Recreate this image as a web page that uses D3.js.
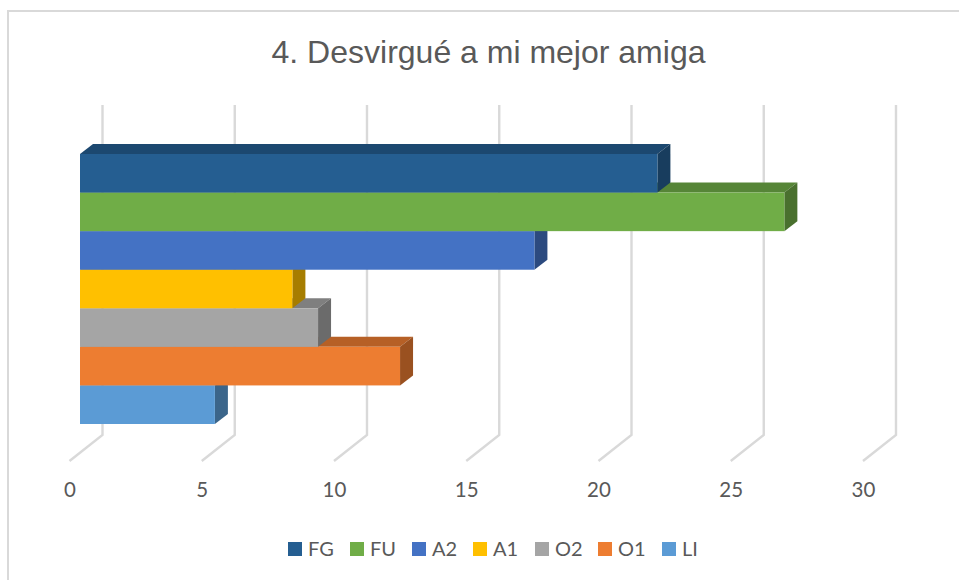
<!DOCTYPE html>
<html><head><meta charset="utf-8">
<script src="https://cdn.jsdelivr.net/npm/d3@7"></script>
<style>html,body{margin:0;padding:0;background:#fff;overflow:hidden}svg{display:block}</style>
</head><body><svg id="c" width="959" height="580"></svg>
<script>
const categories = ["FG","FU","A2","A1","O2","O1","LI"];
const values = [21.83,26.63,17.18,8.03,9.0,12.1,5.1];
const colors = ["#255e91","#70ad47","#4472c4","#ffc000","#a5a5a5","#ed7d31","#5b9bd5"];
const tickValues = [0,5,10,15,20,25,30];
const titleText = "4. Desvirgué a mi mejor amiga";

const svg = d3.select("#c");
const W = 959, H = 580;
const depth = {dx:13, dy:10};
const gridBack = {dx:33, top:105, bottom:435, front:461};

const xFront = d3.scaleLinear().domain([0,30]).range([69.5,863]);
const xBar = v => xFront(v) + 10.5;
const y = d3.scaleBand().domain(categories).range([154,424]).paddingInner(0).paddingOuter(0);
const color = d3.scaleOrdinal().domain(categories).range(colors);

// chart frame
svg.append("path").attr("d",`M8,${H}V11H${W}`).attr("fill","none").attr("stroke","#d9d9d9").attr("stroke-width",2);
svg.append("text").attr("x",488.5).attr("y",63).attr("text-anchor","middle")
  .attr("font-family","'Liberation Sans',Arial,sans-serif").attr("font-size",32).attr("fill","#595959").text(titleText);

// 3D gridlines
const grid = svg.append("g").attr("fill","none").attr("stroke","#d9d9d9").attr("stroke-width",2.4);
grid.selectAll("path").data(tickValues).join("path")
  .attr("d",d=>{const f=xFront(d),b=f+gridBack.dx;return `M${b},${gridBack.top}V${gridBack.bottom}L${f},${gridBack.front}`;});

// bars: back (bottom) to front (top)
const order = categories.map((c,i)=>({c,v:values[i]})).reverse();
const bars = svg.append("g");
order.forEach(d=>{
  const x0=xBar(0),x1=xBar(d.v),y0=y(d.c),y1=y0+y.bandwidth(),base=d3.color(color(d.c));
  const g=bars.append("g");
  const shade=k=>{const c=d3.rgb(base);return d3.rgb(c.r*k,c.g*k,c.b*k).formatHex();};
  g.append("path").attr("fill",shade(0.77))
    .attr("d",`M${x0},${y0}L${x0+depth.dx},${y0-depth.dy}H${x1+depth.dx}L${x1},${y0}Z`);
  g.append("path").attr("fill",shade(0.65))
    .attr("d",`M${x1},${y0}L${x1+depth.dx},${y0-depth.dy}V${y1-depth.dy}L${x1},${y1}Z`);
  g.append("rect").attr("x",x0).attr("y",y0).attr("width",x1-x0).attr("height",y1-y0).attr("fill",base.formatHex());
});

// axis labels
const axis = d3.axisBottom(xFront).tickValues(tickValues).tickSize(0).tickPadding(0);
const ax = svg.append("g").attr("transform","translate(0,482)").call(axis);
ax.select(".domain").remove();
ax.selectAll("text").attr("font-family","Lato,Carlito,sans-serif").attr("font-size",20.5).attr("fill","#595959").attr("dy","0.71em").attr("y",0);

// legend
const legendX = [288,350,412,473,535,598,662];
const lg = svg.append("g").selectAll("g").data(categories).join("g")
  .attr("transform",(d,i)=>`translate(${legendX[i]},542)`);
lg.append("rect").attr("width",14).attr("height",14).attr("fill",d=>color(d));
lg.append("text").attr("x",20).attr("y",13.5).attr("font-family","Lato,Carlito,sans-serif").attr("font-size",20).attr("fill","#595959").text(d=>d);
</script></body></html>
